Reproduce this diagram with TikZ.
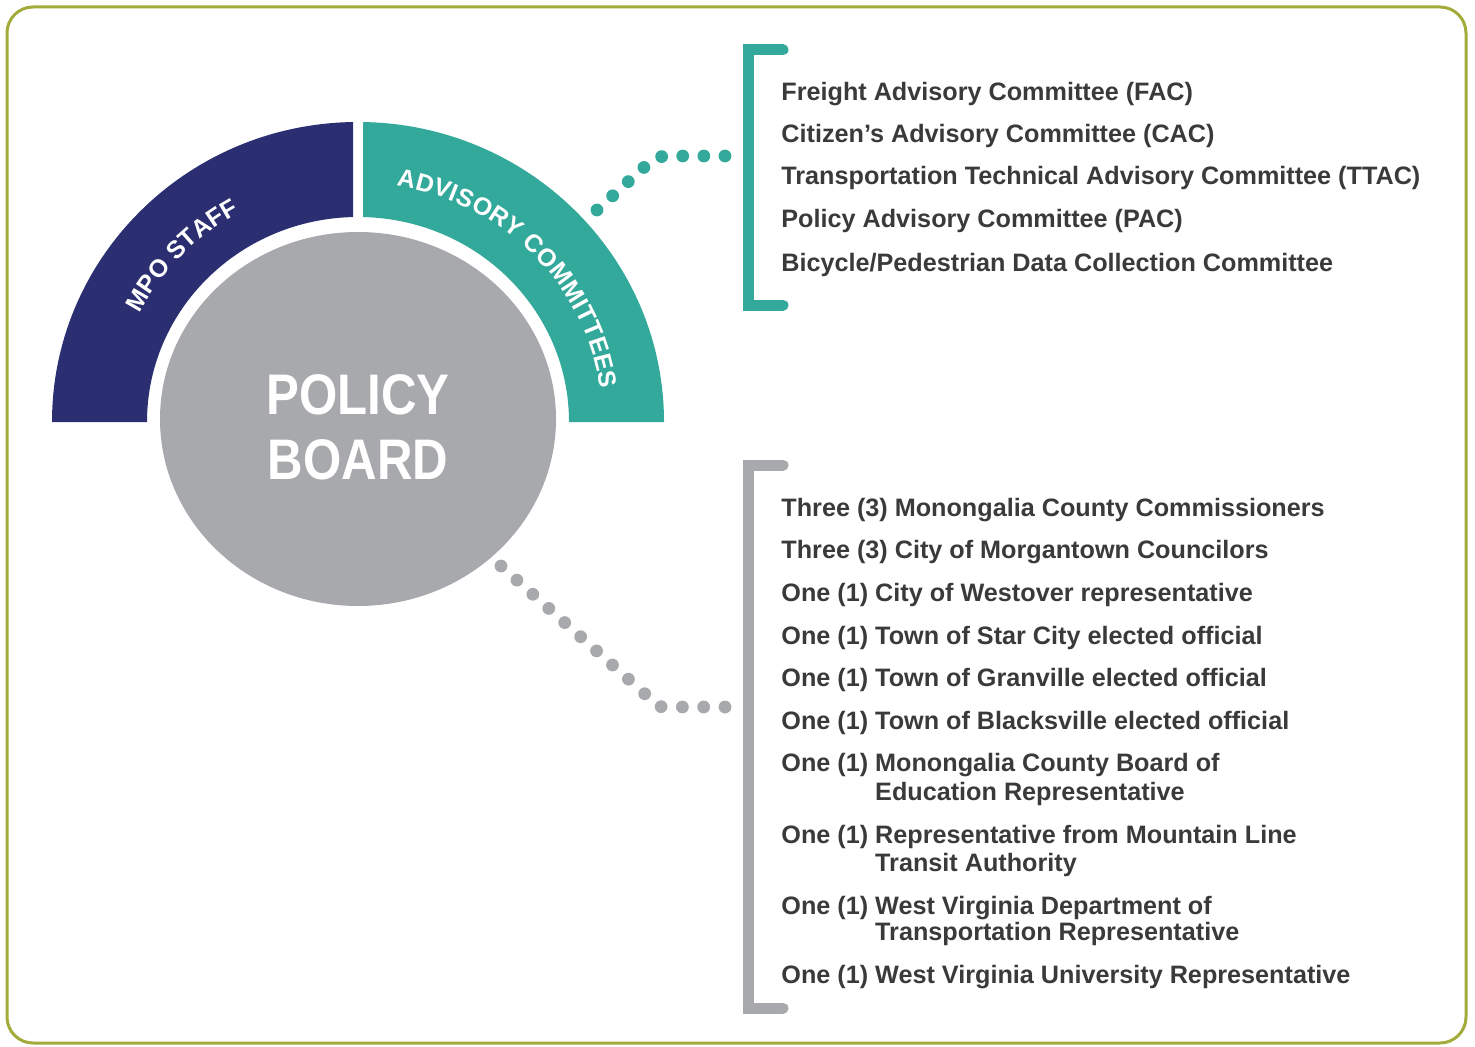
\documentclass[tikz,border=0pt]{standalone}
\usepackage{fontspec}
\usepackage{graphicx}
\setmainfont{Liberation Sans}
\usetikzlibrary{decorations.text,decorations.markings}
\definecolor{navy}{HTML}{2B2F72}
\definecolor{tealc}{HTML}{33A99B}
\definecolor{pbgray}{HTML}{A7A9AC}
\definecolor{olivec}{HTML}{A3AB3A}
\definecolor{txt}{HTML}{3A3A3A}
\newcommand\bandfnt{\fontsize{12.4}{14}\selectfont\bfseries\color{white}}
\newcommand\pbs[1]{\scalebox{0.86}[1]{#1}}
\begin{document}
\begin{tikzpicture}[x=0.5pt,y=0.5pt,
  item/.style={anchor=base west, inner sep=0pt, text=txt, font=\fontsize{12.6}{15}\selectfont\bfseries},
  pbtxt/.style={anchor=base, inner sep=0pt, text=white, font=\fontsize{28.6}{30}\selectfont\bfseries},
  bracket/.style={line width=5.5pt, line cap=round, line join=miter},
  dotline/.style 2 args={decorate, decoration={markings, mark=between positions 0 and 1 step #1 with {\fill[#2] (0,0) circle (3.2pt);}}},
]
\useasboundingbox (0,0) rectangle (1475,1046);
% border
\draw[olivec, line width=1.5pt, rounded corners=13pt] (7,3) rectangle (1466,1039);

% bands
\begin{scope}
  \clip (0,0) rectangle (353,1046);
  \fill[navy] (52,624) arc[start angle=180,end angle=0,x radius=306,y radius=300] -- (569,624)
     arc[start angle=0,end angle=180,x radius=211,y radius=205] -- cycle;
\end{scope}
\begin{scope}
  \clip (363,0) rectangle (1475,1046);
  \fill[tealc] (52,624) arc[start angle=180,end angle=0,x radius=306,y radius=300] -- (569,624)
     arc[start angle=0,end angle=180,x radius=211,y radius=205] -- cycle;
\end{scope}

% band labels
\path[decorate, decoration={text along path, text={|\bandfnt|MPO STAFF}, text align={fit to path}}]
  ([shift={(153:245 and 239)}]358,624) arc[start angle=153, end angle=119, x radius=245, y radius=239];
\path[decorate, decoration={text along path, text={|\bandfnt|ADVISORY COMMITTEES}, text align={fit to path}}]
  ([shift={(81:245 and 239)}]358,624) arc[start angle=81, end angle=8, x radius=245, y radius=239];

% policy board circle
\fill[pbgray] (358,627) ellipse[x radius=198, y radius=187];
\node[pbtxt] (pb1) at (358,632) {\pbs{POLICY}};
\node[pbtxt] (pb2) at (358,567) {\pbs{BOARD}};

% connectors
\coordinate (tA) at (597,836);
\coordinate (tB) at (725,890);
\path[dotline={0.1428}{tealc}] (tA) -- (640,875) .. controls (650,884) and (655,890) .. (668,890) -- (tB);
\coordinate (gA) at (501,480);
\coordinate (gB) at (725,339);
\path[dotline={0.07692}{pbgray}] (gA) -- (644,353) .. controls (650,347) and (655,339) .. (664,339) -- (gB);

% brackets
\draw[tealc, bracket] (783,996) -- (748,996) -- (748,741) -- (783,741);
\draw[pbgray, bracket] (783,581) -- (748,581) -- (748,38) -- (783,38);

% advisory committees list
\node[item] (a1) at (781,945) {Freight Advisory Committee (FAC)};
\node[item] (a2) at (781,903) {Citizen’s Advisory Committee (CAC)};
\node[item] (a3) at (781,861) {Transportation Technical Advisory Committee (TTAC)};
\node[item] (a4) at (781,818) {Policy Advisory Committee (PAC)};
\node[item] (a5) at (781,775) {Bicycle/Pedestrian Data Collection Committee};

% policy board list
\node[item] (b1) at (781,530) {Three (3) Monongalia County Commissioners};
\node[item] (b2) at (781,488) {Three (3) City of Morgantown Councilors};
\node[item] (b3) at (781,445) {One (1) City of Westover representative};
\node[item] (b4) at (781,402) {One (1) Town of Star City elected official};
\node[item] (b5) at (781,360) {One (1) Town of Granville elected official};
\node[item] (b6) at (781,317) {One (1) Town of Blacksville elected official};
\node[item] (b7) at (781,275) {One (1) Monongalia County Board of};
\node[item] (b7b) at (781,246) {\phantom{One (1) }Education Representative};
\node[item] (b8) at (781,203) {One (1) Representative from Mountain Line};
\node[item] (b8b) at (781,175) {\phantom{One (1) }Transit Authority};
\node[item] (b9) at (781,132) {One (1) West Virginia Department of};
\node[item] (b9b) at (781,106) {\phantom{One (1) }Transportation Representative};
\node[item] (b10) at (781,63) {One (1) West Virginia University Representative};
\end{tikzpicture}
\end{document}
